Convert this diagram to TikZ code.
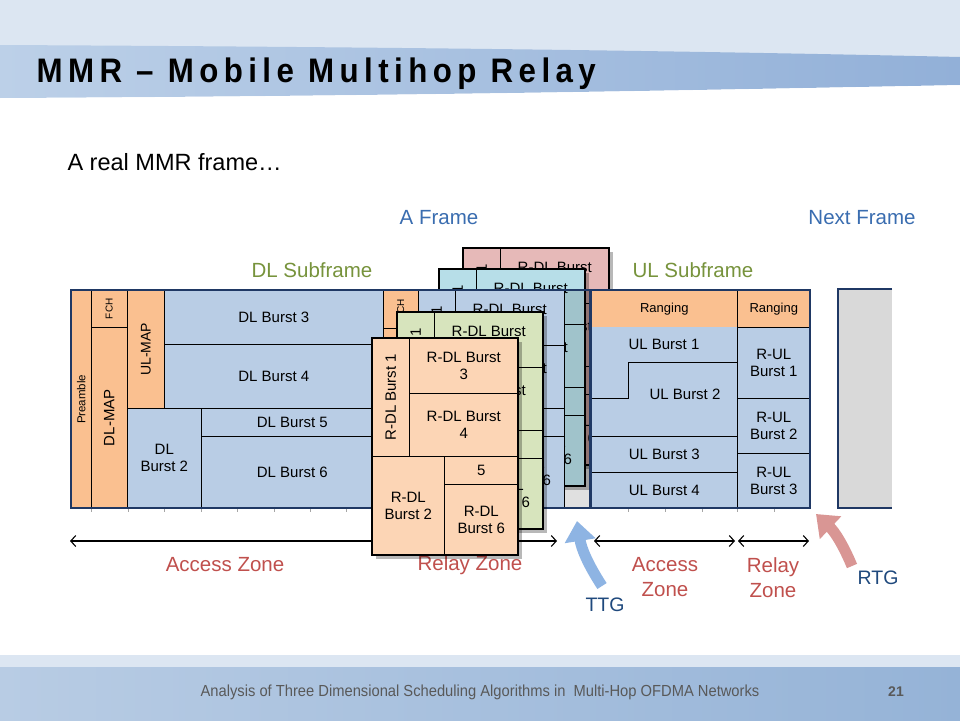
\documentclass[tikz,border=0pt]{standalone}
\usepackage{fontspec}
\setmainfont{Liberation Sans}
\newfontfamily\titlefont[FakeStretch=0.92,LetterSpace=16]{Liberation Sans Bold}
\newfontfamily\footfont[FakeStretch=0.92]{Liberation Sans}
\usetikzlibrary{arrows.meta,calc}
\definecolor{orng}{HTML}{FAC090}
\definecolor{bburst}{HTML}{B9CDE5}
\definecolor{peach}{HTML}{FCD5B5}
\definecolor{grn}{HTML}{D7E4BD}
\definecolor{cyn}{HTML}{B7DEE8}
\definecolor{pnk}{HTML}{E6B9B8}
\definecolor{nxt}{HTML}{D9D9D9}
\definecolor{framenavy}{HTML}{1F3864}
\definecolor{lblblue}{HTML}{3A6DB0}
\definecolor{lblgreen}{HTML}{77933C}
\definecolor{lblred}{HTML}{C0504D}
\definecolor{gapnavy}{HTML}{1F497D}
\definecolor{ttgc}{HTML}{8EB4E3}
\definecolor{rtgc}{HTML}{D99694}
\definecolor{hdrlight}{HTML}{DCE6F2}
\definecolor{bandL}{HTML}{BCD0E8}
\definecolor{bandR}{HTML}{92B0D8}
\definecolor{footL}{HTML}{B8CCE4}
\definecolor{footR}{HTML}{95B3D7}
\definecolor{foottext}{HTML}{595959}
\tikzset{
  cell/.style={anchor=north west,draw=black,line width=0.6pt,inner sep=0pt,align=center,font=\fontsize{15}{17}\selectfont},
  cardline/.style={draw=black,line width=1.8pt},
  shadowbox/.style={fill=black,opacity=0.28},
  zonearrow/.style={line width=1.1pt,{Straight Barb[length=5pt,width=11pt]}-{Straight Barb[length=5pt,width=11pt]}},
  zonelbl/.style={text=lblred,align=center,font=\fontsize{20.5}{25}\selectfont},
  gaplbl/.style={text=gapnavy,font=\fontsize{19.5}{19.5}\selectfont},
  headlbl/.style={font=\fontsize{20.5}{21}\selectfont},
  gaparrow/.style={line width=11pt,-{Triangle[width=30pt,length=20pt]}},
  tickmark/.style={draw=gray!70,line width=0.6pt}
}
% #1 prefix, #2 x, #3 y, #4 fill, #5 border style
\newcommand{\rdlcard}[5]{%
\begin{scope}[shift={(#2,#3)}]
\node[cell,fill=#4,minimum width=37pt,minimum height=118pt] (#1a) at (0,0) {\rotatebox{90}{R-DL Burst 1}};
\node[cell,fill=#4,minimum width=109pt,minimum height=55pt] (#1b) at (37,0) {R-DL Burst\\3};
\node[cell,fill=#4,minimum width=109pt,minimum height=63pt] (#1c) at (37,55) {R-DL Burst\\4};
\node[cell,fill=#4,minimum width=72pt,minimum height=99pt] (#1d) at (0,118) {R-DL\\Burst 2};
\node[cell,fill=#4,minimum width=74pt,minimum height=28pt] (#1e) at (72,118) {5};
\node[cell,fill=#4,minimum width=74pt,minimum height=71pt] (#1f) at (72,146) {R-DL\\Burst 6};
\draw[#5] (0,0) rectangle (146,217);
\end{scope}}
\newcommand{\cardshadow}[2]{\fill[shadowbox] ($(#1,#2)+(4,4)$) rectangle ($(#1,#2)+(150,221)$);}
\begin{document}
\begin{tikzpicture}[x=1pt,y=-1pt]
\useasboundingbox (0,0) rectangle (960,720);
\fill[white] (0,0) rectangle (960,720);
% header
\fill[hdrlight] (0,0) rectangle (960,62);
\shade[left color=bandL,right color=bandR] (0,45) .. controls (400,47) and (700,51) .. (960,57) -- (960,85) .. controls (700,90) and (400,96) .. (0,98) -- cycle;
\draw[white,line width=1.5pt] (0,99) .. controls (400,97) and (700,91) .. (960,86);
\node[anchor=west,font=\titlefont\fontsize{34}{34}\selectfont] (title) at (33,74) {MMR – Mobile Multihop Relay};
% footer
\fill[hdrlight] (0,655) rectangle (960,667);
\shade[left color=footL,right color=footR] (0,667) rectangle (960,720);
\node[font=\footfont\fontsize{16}{16}\selectfont,text=foottext] (foot) at (480,692) {Analysis of Three Dimensional Scheduling Algorithms in\ \ Multi-Hop OFDMA Networks};
\node[font=\bfseries\fontsize{14}{14}\selectfont,text=foottext] (pagenum) at (896,692) {21};
% texts
\node[anchor=west,font=\fontsize{23.5}{24}\selectfont] (intro) at (64,162) {A real MMR frame…};
\node[headlbl,text=lblblue] (aframe) at (439,218) {A Frame};
\node[headlbl,text=lblblue] (nframe) at (862,218) {Next Frame};
\node[headlbl,text=lblgreen] (dlsub) at (312,270) {DL Subframe};
\node[headlbl,text=lblgreen] (ulsub) at (693,270) {UL Subframe};
% zone arrows
\coordinate (za) at (70,541);
\coordinate (zb) at (557,541);
\coordinate (zc) at (594,541);
\coordinate (zd) at (735,541);
\coordinate (ze) at (738,541);
\coordinate (zf) at (809,541);
\draw[zonearrow] (za) -- (zb);
\draw[zonearrow] (zc) -- (zd);
\draw[zonearrow] (ze) -- (zf);
\node[zonelbl] (az1) at (225,565) {Access Zone};
\node[zonelbl] (rz1) at (470,565) {Relay Zone};
\node[zonelbl] (az2) at (665,577) {Access\\Zone};
\node[zonelbl] (rz2) at (773,578) {Relay\\Zone};
\node[gaplbl] (ttg) at (605,605) {TTG};
\node[gaplbl] (rtg) at (878,578) {RTG};
% back cards
\cardshadow{463}{248}
\rdlcard{pk}{463}{248}{pnk}{cardline}
\cardshadow{439}{269}
\rdlcard{cy}{439}{269}{cyn}{cardline}
\fill[black,opacity=0.12] (564,290) rectangle (590,508);
% access zone of DL subframe
\node[cell,fill=orng,minimum width=20pt,minimum height=218pt,font=\fontsize{11.5}{12}\selectfont] (pre) at (71,290) {\rotatebox{90}{Preamble}};
\node[cell,fill=orng,minimum width=36pt,minimum height=37pt,font=\fontsize{10}{10}\selectfont] (fch) at (91,290) {\rotatebox{90}{FCH}};
\node[cell,fill=orng,minimum width=36pt,minimum height=181pt] (dlmap) at (91,327) {\rotatebox{90}{DL-MAP}};
\node[cell,fill=orng,minimum width=37pt,minimum height=118pt,font=\fontsize{14}{14}\selectfont] (ulmap) at (127,290) {\rotatebox{90}{UL-MAP}};
\node[cell,fill=bburst,minimum width=219pt,minimum height=54pt] (b3) at (164,290) {DL Burst 3};
\node[cell,fill=bburst,minimum width=219pt,minimum height=64pt] (b4) at (164,344) {DL Burst 4};
\node[cell,fill=bburst,minimum width=74pt,minimum height=100pt] (b2) at (127,408) {DL\\Burst 2};
\node[cell,fill=bburst,minimum width=182pt,minimum height=28pt] (b5) at (201,408) {DL Burst 5};
\node[cell,fill=bburst,minimum width=182pt,minimum height=72pt] (b6) at (201,436) {DL Burst 6};
% relay zone start
\node[cell,fill=orng,minimum width=35pt,minimum height=38pt,font=\fontsize{10}{10}\selectfont] (rfch) at (383,290) {\rotatebox{90}{FCH}};
\node[cell,fill=orng,minimum width=35pt,minimum height=180pt] (rmap) at (383,328) {};
\rdlcard{bl}{418}{290}{bburst}{draw=black,line width=0.8pt}
\draw[framenavy,line width=1.2pt] (71,290) rectangle (590,508);
\foreach \x in {91,128,164,201,237,274,310,346,628,665,702,737,774}
  \draw[tickmark] (\x,509) -- (\x,512);
% front cards
\cardshadow{397}{312}
\rdlcard{gr}{397}{312}{grn}{cardline}
\cardshadow{372}{338}
\rdlcard{pc}{372}{338}{peach}{cardline}
% UL subframe
\node[cell,fill=orng,minimum width=146pt,minimum height=37pt,font=\fontsize{13}{13}\selectfont] (rng1) at (591,290) {Ranging};
\node[cell,fill=orng,minimum width=73pt,minimum height=37pt,font=\fontsize{13}{13}\selectfont] (rng2) at (737,290) {Ranging};
\fill[bburst] (591,327) rectangle (737,436);
\draw[black,line width=0.6pt] (591,398) -- (628,398) -- (628,362) -- (737,362);
\node[font=\fontsize{15}{17}\selectfont] (ub1) at (664,344) {UL Burst 1};
\node[font=\fontsize{15}{17}\selectfont] (ub2) at (685,394) {UL Burst 2};
\node[cell,fill=bburst,minimum width=146pt,minimum height=36pt] (ub3) at (591,436) {UL Burst 3};
\node[cell,fill=bburst,minimum width=146pt,minimum height=36pt] (ub4) at (591,472) {UL Burst 4};
\node[cell,fill=bburst,minimum width=73pt,minimum height=71pt] (rub1) at (737,327) {R-UL\\Burst 1};
\node[cell,fill=bburst,minimum width=73pt,minimum height=55pt] (rub2) at (737,398) {R-UL\\Burst 2};
\node[cell,fill=bburst,minimum width=73pt,minimum height=55pt] (rub3) at (737,453) {R-UL\\Burst 3};
\draw[framenavy,line width=1.2pt] (591,290) rectangle (810,508);
% next frame
\fill[nxt] (838,289) rectangle (892,508);
\draw[framenavy,line width=1.2pt] (892,289) -- (838,289) -- (838,508) -- (892,508);
% TTG / RTG arrows
\coordinate (ttgs) at (602,586);
\coordinate (ttge) at (577,521);
\coordinate (rtgs) at (852,566);
\coordinate (rtge) at (816,514);
\draw[gaparrow,ttgc] (ttgs) to[bend left=12] (ttge);
\draw[gaparrow,rtgc] (rtgs) to[bend right=12] (rtge);
\end{tikzpicture}
\end{document}
